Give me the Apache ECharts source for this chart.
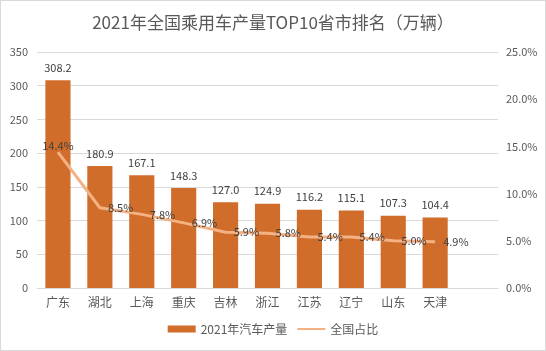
<!DOCTYPE html>
<html>
<head>
<meta charset="utf-8">
<script src="https://cdn.jsdelivr.net/npm/echarts@6/dist/echarts.min.js"></script>
<style>
  html, body { margin: 0; padding: 0; background: #fff; }
  #chart { width: 544px; height: 349px; border: 1px solid #d9d9d9; }
</style>
</head>
<body>
<div id="chart"></div>
<script>
// 省市与产量（万辆）；最后一个空类目为原表中的空行
const provinces = ['广东', '湖北', '上海', '重庆', '吉林', '浙江', '江苏', '辽宁', '山东', '天津', ''];
const output2021 = [308.2, 180.9, 167.1, 148.3, 127.0, 124.9, 116.2, 115.1, 107.3, 104.4];
// 全国占比 %
const shareOfNation = [14.4, 8.5, 7.8, 6.9, 5.9, 5.8, 5.4, 5.4, 5.0, 4.9];

const chart = echarts.init(document.getElementById('chart'));
const font = '"Noto Sans CJK SC", "Noto Sans", sans-serif';
const grey = '#595959';

chart.setOption({
  backgroundColor: '#fff',
  textStyle: { fontFamily: font },
  title: {
    text: '2021年全国乘用车产量TOP10省市排名（万辆）',
    left: 'center',
    top: 8,
    textStyle: { fontSize: 17, fontWeight: 'normal', color: grey, fontFamily: font },
  },
  legend: {
    bottom: 10,
    left: 'center',
    itemGap: 10,
    textStyle: { color: grey, fontSize: 12 },
    data: [
      { name: '2021年汽车产量', icon: 'rect' },
      { name: '全国占比', icon: 'path://M0,3 L28,3 L28,5 L0,5 Z' },
    ],
    itemWidth: 28,
    itemHeight: 7,
  },
  grid: { left: 36, right: 47, top: 51, bottom: 62 },
  xAxis: {
    type: 'category',
    data: provinces,
    axisTick: { show: false },
    axisLine: { lineStyle: { color: '#d9d9d9' } },
    axisLabel: { color: grey, fontSize: 12, margin: 8 },
  },
  yAxis: [
    {
      type: 'value',
      min: 0,
      max: 350,
      interval: 50,
      axisLine: { show: false },
      axisTick: { show: false },
      splitLine: { lineStyle: { color: '#d9d9d9' } },
      axisLabel: { color: grey, fontSize: 11, margin: 9 },
    },
    {
      type: 'value',
      min: 0,
      max: 25,
      interval: 5,
      axisLine: { show: false },
      axisTick: { show: false },
      splitLine: { show: false },
      axisLabel: { color: grey, fontSize: 11, margin: 8, formatter: (v) => v.toFixed(1) + '%' },
    },
  ],
  series: [
    {
      name: '2021年汽车产量',
      type: 'bar',
      data: output2021,
      barWidth: '60%',
      itemStyle: { color: '#D06D2A' },
      label: {
        show: true,
        position: 'top',
        distance: 7,
        color: '#404040',
        fontSize: 11,
        formatter: (p) => p.value.toFixed(1),
      },
      z: 2,
    },
    {
      name: '全国占比',
      type: 'line',
      yAxisIndex: 1,
      data: shareOfNation.map((v, i) => i === 0
        ? { value: v, label: { position: 'top', offset: [12, 0], distance: 1 } }
        : v),
      symbol: 'circle',
      symbolSize: 0.1,
      showSymbol: true,
      lineStyle: { color: '#F4B183', width: 3 },
      itemStyle: { color: '#F4B183' },
      label: {
        show: true,
        position: 'right',
        distance: 8,
        color: '#404040',
        fontSize: 11,
        formatter: (p) => p.value.toFixed(1) + '%',
      },
      labelLayout: { hideOverlap: false },
      z: 3,
    },
  ],
});
</script>
</body>
</html>
